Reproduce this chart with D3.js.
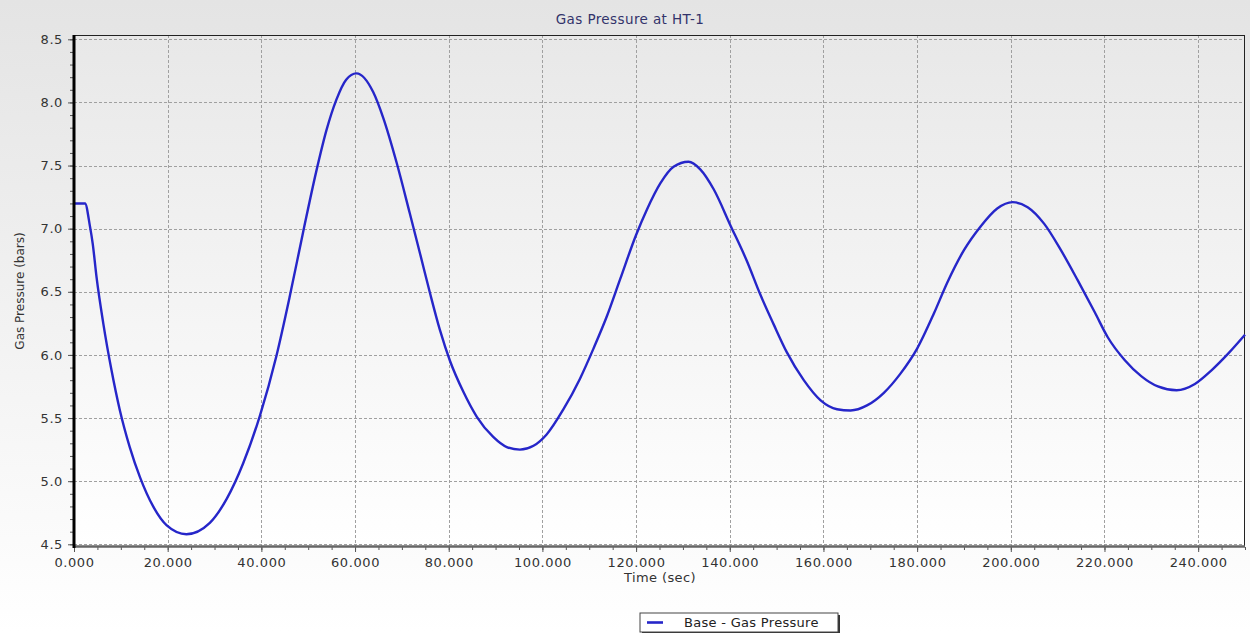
<!DOCTYPE html>
<html lang="en">
<head>
    <meta charset="UTF-8">
    <title>Gas Pressure at HT-1</title>
    <script src="https://d3js.org/d3.v7.min.js"></script>
    <style>
        body {
            margin: 0;
            padding: 0;
            background: #ffffff;
            font-family: 'DejaVu Sans', Verdana, sans-serif;
        }
        svg text {
            font-family: 'DejaVu Sans', Verdana, sans-serif;
        }
    </style>
</head>
<body>
    <svg id="chart" width="1250" height="633"></svg>

    <script>
        // time (sec)
        const times = [0, 2.35, 3.4, 4.0, 4.8, 6.25, 8.0, 9.8, 11.9, 14.1, 16.9, 19.8, 24.0, 29.0,
            32.6, 36.1, 39.7, 43.2, 46.1, 48.9, 51.7, 53.9, 56.0, 58.1, 60.3, 63.9, 66.0, 68.9,
            71.7, 73.9, 76.0, 78.1, 80.3, 83.1, 86.0, 89.5, 92.4, 95.2, 98.1, 100.9, 104.5, 108.0,
            110.9, 113.7, 116.6, 120.0, 122.3, 125.2, 128.0, 131.2, 133.7, 136.6, 140.1, 143.7,
            146.5, 149.4, 152.2, 155.8, 159.4, 162.9, 165.8, 169.3, 172.9, 176.4, 180.0, 183.6,
            186.4, 190.0, 193.6, 197.1, 200.4, 203.6, 207.1, 210.7, 214.3, 217.9, 220.7, 224.3,
            227.9, 231.4, 235.4, 239.3, 242.9, 246.4, 250.0];

        // gas pressure (bars)
        const pressure = [7.20, 7.20, 7.02, 6.88, 6.62, 6.25, 5.88, 5.56, 5.27, 5.03, 4.80, 4.65, 4.58, 4.67,
            4.86, 5.14, 5.52, 5.99, 6.47, 6.97, 7.45, 7.78, 8.02, 8.18, 8.23, 8.08, 7.88, 7.52,
            7.12, 6.80, 6.49, 6.20, 5.95, 5.71, 5.51, 5.35, 5.27, 5.25, 5.28, 5.37, 5.57, 5.81,
            6.05, 6.30, 6.60, 6.95, 7.15, 7.36, 7.49, 7.53, 7.47, 7.31, 7.03, 6.74,
            6.48, 6.24, 6.02, 5.80, 5.64, 5.57, 5.56, 5.60, 5.70, 5.85, 6.05, 6.33,
            6.57, 6.83, 7.02, 7.16, 7.21, 7.17, 7.04, 6.83, 6.59, 6.34, 6.14, 5.96,
            5.83, 5.75, 5.72, 5.77, 5.88, 6.01, 6.16];

        const xTicks = [0, 20, 40, 60, 80, 100, 120, 140, 160, 180, 200, 220, 240];
        const yTicks = [4.5, 5.0, 5.5, 6.0, 6.5, 7.0, 7.5, 8.0, 8.5];

        const W = 1250, H = 633;
        const plot = { left: 74, right: 1245, top: 35, bottom: 547 };

        const svg = d3.select('#chart');
        const defs = svg.append('defs');

        const bgGrad = defs.append('linearGradient')
            .attr('id', 'bgGrad').attr('x1', 0).attr('y1', 0).attr('x2', 0).attr('y2', 1);
        bgGrad.append('stop').attr('offset', '0%').attr('stop-color', '#e4e4e4');
        bgGrad.append('stop').attr('offset', '100%').attr('stop-color', '#ffffff');

        const plotGrad = defs.append('linearGradient')
            .attr('id', 'plotGrad').attr('x1', 0).attr('y1', 0).attr('x2', 0).attr('y2', 1);
        plotGrad.append('stop').attr('offset', '0%').attr('stop-color', '#e8e8e8');
        plotGrad.append('stop').attr('offset', '100%').attr('stop-color', '#ffffff');

        svg.append('rect').attr('width', W).attr('height', H).attr('fill', 'url(#bgGrad)');

        const x = d3.scaleLinear().domain([0, 250]).range([plot.left, plot.right]);
        const y = d3.scaleLinear().domain([4.5, 8.5]).range([544.3, 39.3]);

        // plot background
        svg.append('rect')
            .attr('x', plot.left).attr('y', plot.top)
            .attr('width', plot.right - plot.left).attr('height', plot.bottom - plot.top)
            .attr('fill', 'url(#plotGrad)');

        // grid
        const grid = svg.append('g').attr('stroke', '#a0a0a0').attr('stroke-width', 1)
            .attr('stroke-dasharray', '3,2');
        grid.selectAll('.gx').data(xTicks.slice(1)).join('line')
            .attr('x1', d => Math.round(x(d)) + 0.5).attr('x2', d => Math.round(x(d)) + 0.5)
            .attr('y1', plot.top).attr('y2', plot.bottom);
        grid.selectAll('.gy').data(yTicks).join('line')
            .attr('x1', plot.left).attr('x2', plot.right)
            .attr('y1', d => Math.round(y(d)) + 0.5).attr('y2', d => Math.round(y(d)) + 0.5);

        // frame
        svg.append('line').attr('x1', plot.left).attr('x2', plot.right)
            .attr('y1', plot.top + 0.5).attr('y2', plot.top + 0.5).attr('stroke', '#222').attr('stroke-width', 1);
        svg.append('line').attr('x1', plot.right - 0.5).attr('x2', plot.right - 0.5)
            .attr('y1', plot.top).attr('y2', plot.bottom).attr('stroke', '#222').attr('stroke-width', 1);

        // line
        const line = d3.line()
            .x((d, i) => x(times[i]))
            .y(d => y(d))
            .curve(d3.curveMonotoneX);

        svg.append('path')
            .datum(pressure)
            .attr('fill', 'none')
            .attr('stroke', '#2626c9')
            .attr('stroke-width', 2.4)
            .attr('stroke-linejoin', 'round')
            .attr('d', line);

        // axes
        const yAxis = svg.append('g').attr('transform', `translate(${plot.left - 1},0)`)
            .call(d3.axisLeft(y).tickValues(yTicks).tickSize(5).tickPadding(5).tickFormat(d3.format('.1f')));
        svg.append('g').attr('transform', `translate(${plot.left - 1},0)`)
            .call(d3.axisLeft(y).tickValues(d3.range(4.5, 8.55, 0.1)).tickSize(3).tickFormat(''))
            .call(g => g.select('.domain').remove());

        const xAxis = svg.append('g').attr('transform', `translate(0,${plot.bottom})`)
            .call(d3.axisBottom(x).tickValues(xTicks).tickSize(5).tickPadding(6).tickFormat(d3.format('.3f')));
        svg.append('g').attr('transform', `translate(0,${plot.bottom})`)
            .call(d3.axisBottom(x).tickValues(d3.range(0, 251, 5)).tickSize(3).tickFormat(''))
            .call(g => g.select('.domain').remove());

        svg.selectAll('.tick line').attr('stroke', '#555');
        svg.selectAll('.tick text').attr('fill', '#333').attr('font-size', 13).attr('letter-spacing', 0.6);

        yAxis.select('.domain').remove();
        xAxis.select('.domain').remove();

        svg.append('line').attr('x1', plot.left).attr('x2', plot.right)
            .attr('y1', plot.bottom - 0.5).attr('y2', plot.bottom - 0.5)
            .attr('stroke', '#666').attr('stroke-width', 2.5);
        svg.append('line').attr('x1', plot.left).attr('x2', plot.left)
            .attr('y1', plot.top).attr('y2', plot.bottom + 1)
            .attr('stroke', '#000').attr('stroke-width', 3);

        // titles
        svg.append('text').attr('x', 630).attr('y', 24).attr('text-anchor', 'middle')
            .attr('font-size', 13.5).attr('fill', '#33336b').attr('letter-spacing', 0.4)
            .text('Gas Pressure at HT-1');

        svg.append('text').attr('x', 660).attr('y', 582).attr('text-anchor', 'middle')
            .attr('font-size', 13).attr('fill', '#333').attr('letter-spacing', 0.4)
            .text('Time (sec)');

        svg.append('text')
            .attr('transform', 'translate(24,291) rotate(-90)')
            .attr('text-anchor', 'middle')
            .attr('font-size', 12).attr('fill', '#333')
            .text('Gas Pressure (bars)');

        // legend
        const legend = svg.append('g').attr('transform', 'translate(640,613)');
        legend.append('rect').attr('x', 2).attr('y', 2).attr('width', 198).attr('height', 19).attr('fill', '#333');
        legend.append('rect').attr('x', 0).attr('y', 0).attr('width', 198).attr('height', 19)
            .attr('fill', '#fff').attr('stroke', '#444').attr('stroke-width', 1);
        legend.append('line').attr('x1', 7).attr('x2', 23).attr('y1', 9.5).attr('y2', 9.5)
            .attr('stroke', '#2626c9').attr('stroke-width', 2.6);
        legend.append('text').attr('x', 44).attr('y', 14)
            .attr('font-size', 13).attr('fill', '#222').attr('letter-spacing', 0.3)
            .text('Base - Gas Pressure');
    </script>
</body>
</html>
